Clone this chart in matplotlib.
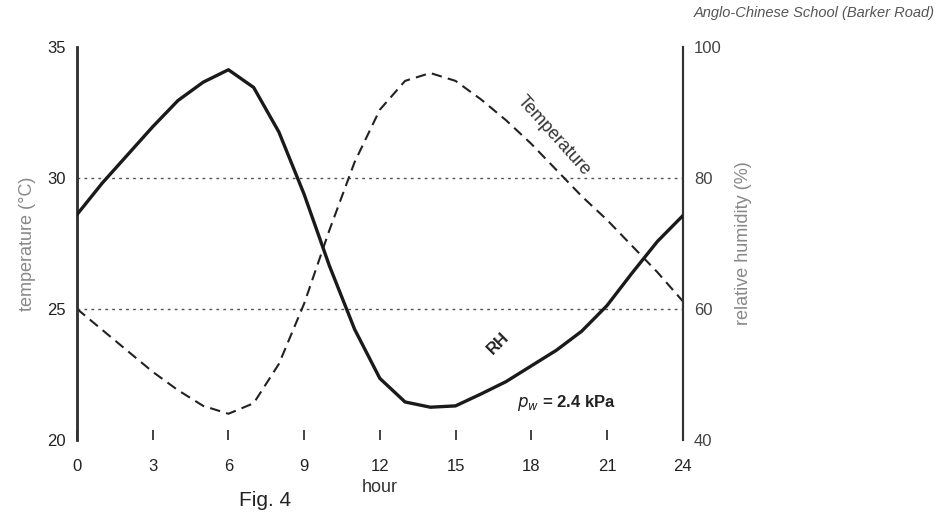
import matplotlib
matplotlib.use("Agg")
import matplotlib.pyplot as plt

plt.rcParams['font.family'] = ['Liberation Sans', 'DejaVu Sans']

# data
hours = list(range(25))
temperature = [25.0, 24.2, 23.4, 22.6, 21.9, 21.3, 21.0, 21.4, 22.9, 25.2, 28.0,
               30.6, 32.6, 33.7, 34.0, 33.7, 33.0, 32.2, 31.3, 30.3, 29.3, 28.4,
               27.4, 26.4, 25.3]
rh = [74.4, 79.2, 83.5, 87.8, 91.8, 94.6, 96.5, 93.8, 87.0, 77.5, 66.6, 56.9,
      49.4, 45.8, 45.0, 45.2, 47.0, 48.9, 51.3, 53.7, 56.6, 60.5, 65.5, 70.3, 74.2]
x_ticks = [0, 3, 6, 9, 12, 15, 18, 21, 24]
temp_ticks = [20, 25, 30, 35]
rh_ticks = [40, 60, 80, 100]

fig = plt.figure(figsize=(9.39, 5.32), dpi=100)
ax = fig.add_axes([0.082, 0.173, 0.645, 0.739])
ax2 = ax.twinx()

# dotted grid lines at 25 and 30 degC
for g in [25, 30]:
    ax.axhline(g, color='#555555', lw=1.0, ls=(0, (2, 3)), zorder=1)

ax.plot(hours, temperature, color='#222222', lw=1.5, ls=(0, (5, 3)), zorder=3)
ax2.plot(hours, rh, color='#1a1a1a', lw=2.4, zorder=3)

ax.set_xlim(0, 24)
ax.set_ylim(20, 35)
ax2.set_ylim(40, 100)
ax.set_xticks(x_ticks)
ax.set_yticks(temp_ticks)
ax2.set_yticks(rh_ticks)

for a in (ax, ax2):
    a.spines['top'].set_visible(False)
    a.spines['bottom'].set_visible(False)
    a.spines['left'].set_color('#333333')
    a.spines['right'].set_color('#333333')
    a.spines['left'].set_linewidth(1.8)
    a.spines['right'].set_linewidth(1.5)

ax.tick_params(axis='x', direction='in', length=7, width=1.2, pad=14,
               labelsize=12, colors='#222222')
ax.tick_params(axis='y', length=0, pad=8, labelsize=12, colors='#222222')
ax2.tick_params(axis='y', length=0, pad=8, labelsize=12, colors='#444444')

ax.set_xlabel('hour', fontsize=13, color='#333333', labelpad=3)
ax.set_ylabel('temperature (°C)', fontsize=13, color='#888888', labelpad=8)
ax2.set_ylabel('relative humidity (%)', fontsize=13, color='#888888', labelpad=10)

# curve labels
ax.text(18.9, 31.6, 'Temperature', rotation=-48, fontsize=13, color='#333333',
        ha='center', va='center')
ax.text(16.7, 23.7, 'RH', rotation=45, fontsize=12, color='#222222',
        ha='center', va='center', fontweight='bold')
ax.text(19.4, 21.4, '$p_w$ = 2.4 kPa', fontsize=12, color='#222222',
        ha='center', va='center', fontweight='bold')

fig.text(0.995, 0.975, 'Anglo-Chinese School (Barker Road)', ha='right',
         va='center', fontsize=10.5, style='italic', color='#555555')
fig.text(0.282, 0.06, 'Fig. 4', ha='center', va='center', fontsize=15,
         color='#222222')

fig.savefig('out.png', dpi=100, facecolor='white')
